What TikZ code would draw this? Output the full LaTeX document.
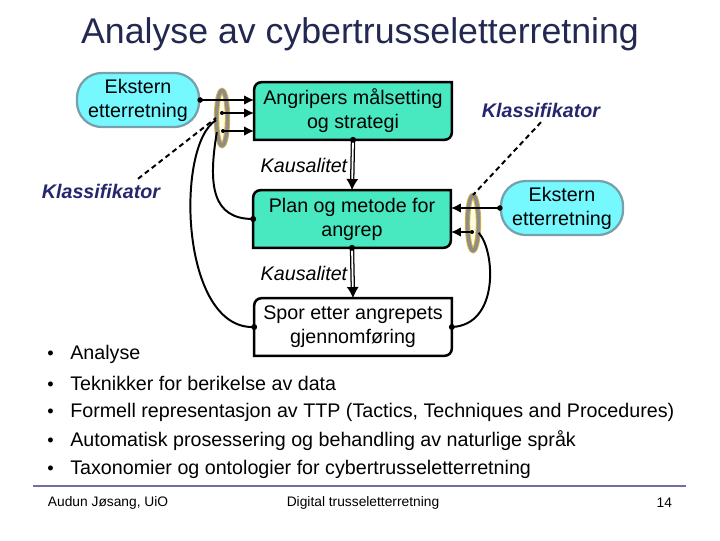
\documentclass[tikz,border=0pt]{standalone}
\usepackage{fontspec}
\setmainfont{Liberation Sans}
\usetikzlibrary{arrows.meta,shapes.geometric,backgrounds,calc}

\definecolor{pillfill}{RGB}{118,248,255}
\definecolor{pilledge}{RGB}{120,160,170}
\definecolor{boxfill}{RGB}{72,232,192}
\definecolor{navy}{RGB}{38,38,110}
\definecolor{titlecol}{RGB}{35,40,80}
\definecolor{ringgold}{RGB}{214,176,64}
\definecolor{ringgray}{RGB}{140,140,140}
\definecolor{rulecol}{RGB}{112,112,160}

\begin{document}
\begin{tikzpicture}[
            x=0.025cm, y=-0.025cm,
            every node/.style={font=\fontsize{14}{17}\selectfont},
            titletext/.style={
                anchor=base,
                text=titlecol,
                font=\fontsize{25.4}{30}\selectfont
            },
            pill/.style={
                rectangle,
                draw=pilledge,
                fill=pillfill,
                line width=1.6pt,
                rounded corners=0.62cm,
                minimum width=3.05cm,
                minimum height=1.35cm,
                align=center,
                inner sep=0pt
            },
            box/.style={
                rectangle,
                minimum width=4.94cm,
                minimum height=1.44cm,
                align=center,
                outer sep=0pt
            },
            frame/.style={
                draw=black,
                line width=1.8pt
            },
            ring/.style={
                ellipse,
                draw=ringgold,
                double=ringgray,
                double distance=2.4pt,
                line width=0.7pt,
                fill=yellow!12,
                minimum width=0.275cm,
                minimum height=1.375cm,
                inner sep=0pt
            },
            klass/.style={
                text=navy,
                font=\fontsize{14}{17}\selectfont\bfseries\itshape
            },
            kaus/.style={
                left,
                font=\fontsize{14}{17}\selectfont\itshape
            },
            arr/.style={
                -{Latex[length=0.25cm,width=0.24cm]},
                line width=1.4pt
            },
            causal/.style={
                -{Latex[length=0.28cm,width=0.3cm]},
                double,
                double distance=1.3pt,
                line width=0.9pt
            },
            link/.style={
                line width=1.4pt
            },
            dashline/.style={
                dash pattern=on 3.6pt off 2.6pt,
                line width=1.4pt
            },
            item/.style={
                anchor=west,
                inner sep=0pt
            },
            foot/.style={
                font=\fontsize{9.8}{12}\selectfont
            }
        ]
            \useasboundingbox (0,0) rectangle (720,540);

            % Title
            \node[titletext] (title) at (360,43) {Analyse av cybertrusseletterretning};

            % Boxes
            \node[pill] (ekstL) at (138,100) {Ekstern\\etterretning};
            \node[box] (goal) at (353,111) {Angripers målsetting\\og strategi};
            \node[box] (plan) at (352,219) {Plan og metode for\\angrep};
            \node[box] (trace) at (353,327) {Spor etter angrepets\\gjennomføring};
            \node[pill] (ekstR) at (562,208) {Ekstern\\etterretning};

            % Frames behind the boxes (top left and bottom right rounded)
            \begin{scope}[on background layer]
                \foreach \b/\c in {goal/boxfill, plan/boxfill, trace/white}
                    \draw[frame, fill=\c] (\b.south west) -- ($(\b.north west)+(0,7.2)$) arc[start angle=180, end angle=90, radius=0.18cm] -- (\b.north east) -- ($(\b.south east)+(0,-7.2)$) arc[start angle=0, end angle=-90, radius=0.18cm] -- cycle;
            \end{scope}

            % Rings
            \node[ring] (ringL) at (222,118) {};
            \node[ring] (ringR) at (473,223) {};
            \coordinate (inL1) at (222,113);
            \coordinate (inL2) at (223,131);
            \coordinate (inR1) at (472,232);

            % Classifiers
            \node[klass] (klassR) at (541,110) {Klassifikator};
            \node[klass] (klassL) at (101,191) {Klassifikator};
            \draw[dashline] ($(klassL.north)+(37,0)$) -- (ringL.west);
            \draw[dashline] (klassR.south) -- (ringR.north);

            % Inputs
            \draw[arr] (ekstL.east) -- (ekstL.east -| goal.west);
            \draw[arr] (inL1) -- (inL1 -| goal.west);
            \draw[arr] (inL2) -- (inL2 -| goal.west);
            \draw[arr] (ekstR.west) -- (ekstR.west -| plan.east);
            \draw[arr] (inR1) -- (inR1 -| plan.east);

            % Causality
            \draw[causal] (goal.south) -- node[kaus] (kaus1) {Kausalitet} (plan.north);
            \draw[causal] (plan.south) -- node[kaus] (kaus2) {Kausalitet} (trace.north);

            % Feedback curves
            \draw[link] (ringL.250) .. controls (208,185) and (212,219) .. (plan.west);
            \draw[link] (ringL.200) .. controls (175,145) and (180,330) .. (trace.west);
            \draw[link] (ringR.-60) .. controls (495,250) and (500,325) .. (trace.east);

            % Dots
            \fill (ekstL.east) circle[radius=2.8];
            \fill (ekstR.west) circle[radius=2.8];
            \fill (inL1) circle[radius=2];
            \fill (inL2) circle[radius=2];
            \fill (inR1) circle[radius=2];
            \fill (goal.south) circle[radius=3];
            \fill (plan.south) circle[radius=3];
            \fill (plan.west) circle[radius=3];
            \fill (trace.west) circle[radius=3];
            \fill (trace.east) circle[radius=3];

            % Bullet list
            \node[item] (item1) at (47,354) {\makebox[0.575cm][l]{\fontsize{13}{15}\selectfont\textbullet}Analyse};
            \node[item] (item2) at (47,383) {\makebox[0.575cm][l]{\fontsize{13}{15}\selectfont\textbullet}Teknikker for berikelse av data};
            \node[item] (item3) at (47,412) {\makebox[0.575cm][l]{\fontsize{13}{15}\selectfont\textbullet}Formell representasjon av TTP (Tactics, Techniques and Procedures)};
            \node[item] (item4) at (47,441) {\makebox[0.575cm][l]{\fontsize{13}{15}\selectfont\textbullet}Automatisk prosessering og behandling av naturlige språk};
            \node[item] (item5) at (47,469) {\makebox[0.575cm][l]{\fontsize{13}{15}\selectfont\textbullet}Taxonomier og ontologier for cybertrusseletterretning};

            % Footer
            \draw[rulecol, line width=0.9pt] (33,486) -- (686,486);
            \node[foot, anchor=west] (author) at (43,503) {Audun Jøsang, UiO};
            \node[foot] (course) at (363,503) {Digital trusseletterretning};
            \node[foot, anchor=east] (page) at (677,503) {14};
        \end{tikzpicture}
\end{document}
